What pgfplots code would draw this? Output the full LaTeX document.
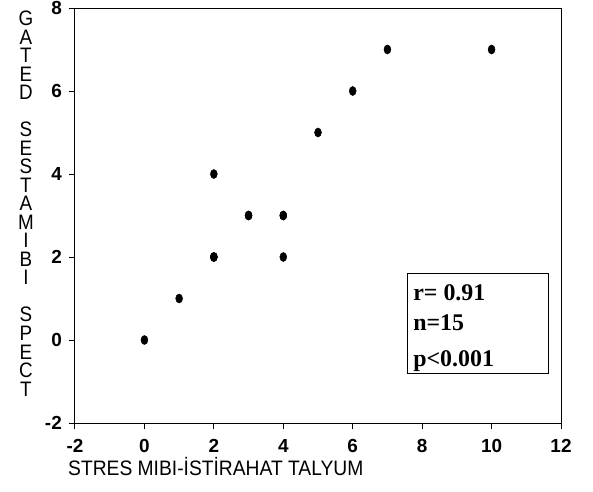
\documentclass[border=0pt]{standalone}
\usepackage{pgfplots}
\pgfplotsset{compat=1.18}
\usepackage{fontspec}
\setmainfont{Liberation Sans}
\newfontfamily\timesfont{Liberation Serif}
\usepackage{graphicx}
\begin{document}
\begin{tikzpicture}
\begin{axis}[
  at={(0,0)}, anchor=south west,
  scale only axis, width=486bp, height=415bp,
  xmin=-2, xmax=12, ymin=-2, ymax=8,
  xtick={-2,0,2,4,6,8,10,12}, ytick={-2,0,2,4,6,8},
  xtick pos=bottom, ytick pos=left,
  tick align=outside, major tick length=6bp,
  tick style={black, line width=1bp},
  axis line style={line width=1bp},
  /pgf/number format/assume math mode=true,
  ticklabel style={font=\fontsize{19}{19}\selectfont\bfseries, inner sep=0pt},
  xticklabel style={anchor=north, yshift=-10bp},
  yticklabel style={anchor=east, xshift=-7bp},
  xlabel={\scalebox{0.92}[1]{STRES MIBI-İSTİRAHAT TALYUM}},
  xlabel style={at={(axis description cs:0,0)}, anchor=base west, xshift=-7bp, yshift=-52bp, inner sep=0pt, font=\fontsize{21}{21}\selectfont},
  clip=false,
]
\addplot[only marks, mark=*, mark size=3.5bp, mark options={yscale=1.3, fill=black, draw=black}] coordinates {
(0,0) (1,1) (2,2) (2,2) (2,4) (3,3) (3,3) (4,3) (4,2) (5,5) (6,6) (7,7) (10,7) (2,2) (4,3)
};
\draw[line width=1bp] (axis cs:7.57,-0.80) rectangle (axis cs:11.63,1.61);
\node[anchor=base west, inner sep=0pt, font=\timesfont\bfseries\fontsize{24}{24}\selectfont] at (axis cs:7.74,0.96) {r= 0.91};
\node[anchor=base west, inner sep=0pt, font=\timesfont\bfseries\fontsize{24}{24}\selectfont] at (axis cs:7.74,0.22) {n=15};
\node[anchor=base west, inner sep=0pt, font=\timesfont\bfseries\fontsize{24}{24}\selectfont] at (axis cs:7.74,-0.65) {p<0.001};
\node[anchor=base, inner sep=0pt, xshift=-49bp, yshift=-17.5bp, xscale=0.9] at (axis description cs:0,1)
 {\parbox[t]{24bp}{\fontsize{21}{18.6}\selectfont\centering G\\A\\T\\E\\D\\\mbox{}\\S\\E\\S\\T\\A\\M\\I\\B\\I\\\mbox{}\\S\\P\\E\\C\\T}};
\end{axis}
\pgfresetboundingbox
\path[use as bounding box] (-75bp,-69bp) rectangle (518bp,423bp);
\end{tikzpicture}
\end{document}
